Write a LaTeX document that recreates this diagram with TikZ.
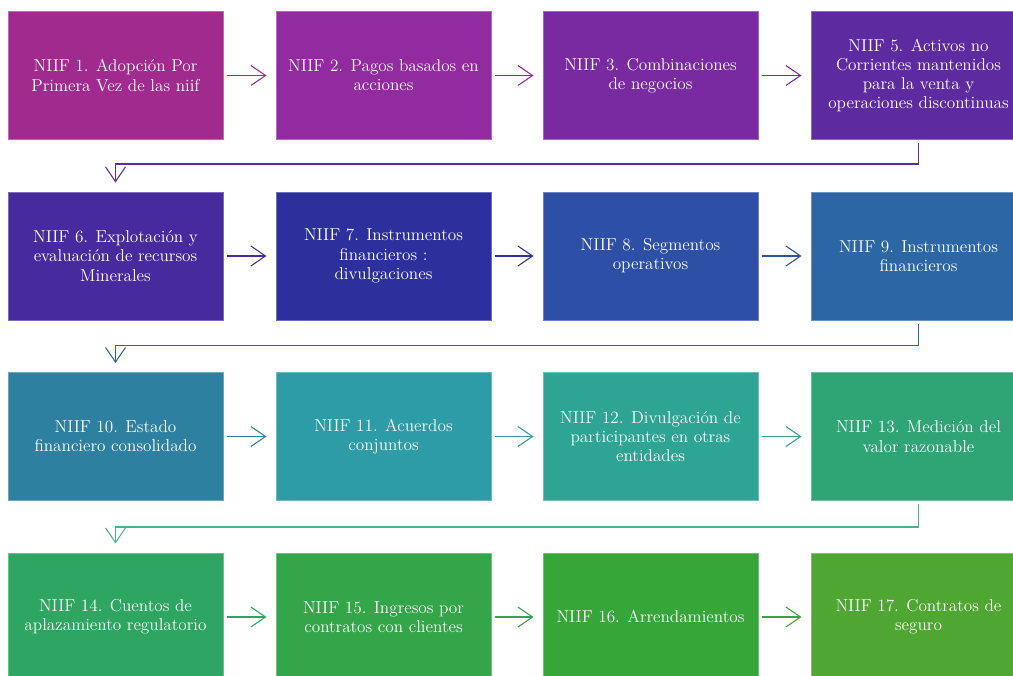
\documentclass[tikz,border=0pt]{standalone}
\usetikzlibrary{arrows.meta, positioning}
\definecolor{cA}{HTML}{A12A8F}
\definecolor{cB}{HTML}{922AA0}
\definecolor{cC}{HTML}{7A2AA0}
\definecolor{cD}{HTML}{5E2AA0}
\definecolor{cE}{HTML}{472B9E}
\definecolor{cF}{HTML}{2D309C}
\definecolor{cG}{HTML}{2D4FA6}
\definecolor{cH}{HTML}{2D66A5}
\definecolor{cI}{HTML}{2D80A0}
\definecolor{cJ}{HTML}{2D9CA6}
\definecolor{cK}{HTML}{2EA594}
\definecolor{cL}{HTML}{2FA474}
\definecolor{cM}{HTML}{2EA560}
\definecolor{cN}{HTML}{33A64A}
\definecolor{cO}{HTML}{36A638}
\definecolor{cP}{HTML}{50A632}

\begin{document}
\begin{tikzpicture}[x=0.75pt,y=0.75pt,yscale=-1,xscale=1,
  niif/.style={rectangle, minimum width=161.25pt, minimum height=96pt, inner sep=0pt, line width=0.75pt, text=white, align=center, font=\fontsize{12.9}{14.4}\selectfont},
  link/.style={line width=0.8pt, -{Straight Barb[length=11pt,width=15pt]}, shorten <=2.25pt, shorten >=6.75pt}]
%set diagram left start at 0, and has height of 675
\useasboundingbox (0,0) rectangle (1013,675);
\clip (0,0) rectangle (1013,675);

% Row 1
\node [niif, fill=cA, draw=cA!70!white] (niif1) at (115.5,75.5) {NIIF 1. Adopción Por\\Primera Vez de las niif};
\node [niif, fill=cB, draw=cB!70!white] (niif2) at (383.5,75.5) {NIIF 2. Pagos basados en\\acciones};
\node [niif, fill=cC, draw=cC!70!white] (niif3) at (650.5,75.5) {NIIF 3. Combinaciones\\de negocios};
\node [niif, fill=cD, draw=cD!70!white] (niif5) at (918.5,75.5) {NIIF 5. Activos no\\Corrientes mantenidos\\para la venta y\\operaciones discontinuas};

% Row 2
\node [niif, fill=cE, draw=cE!70!white] (niif6) at (115.5,256) {NIIF 6. Explotación y\\evaluación de recursos\\Minerales};
\node [niif, fill=cF, draw=cF!70!white] (niif7) at (383.5,256) {NIIF 7. Instrumentos\\financieros :\\divulgaciones};
\node [niif, fill=cG, draw=cG!70!white] (niif8) at (650.5,256) {NIIF 8. Segmentos\\operativos};
\node [niif, fill=cH, draw=cH!70!white] (niif9) at (918.5,256) {NIIF 9. Instrumentos\\financieros};

% Row 3
\node [niif, fill=cI, draw=cI!70!white] (niif10) at (115.5,436.5) {NIIF 10. Estado\\financiero consolidado};
\node [niif, fill=cJ, draw=cJ!70!white] (niif11) at (383.5,436.5) {NIIF 11. Acuerdos\\conjuntos};
\node [niif, fill=cK, draw=cK!70!white] (niif12) at (650.5,436.5) {NIIF 12. Divulgación de\\participantes en otras\\entidades};
\node [niif, fill=cL, draw=cL!70!white] (niif13) at (918.5,436.5) {NIIF 13. Medición del\\valor razonable};

% Row 4
\node [niif, fill=cM, draw=cM!70!white] (niif14) at (115.5,617) {NIIF 14. Cuentos de\\aplazamiento regulatorio};
\node [niif, fill=cN, draw=cN!70!white] (niif15) at (383.5,617) {NIIF 15. Ingresos por\\contratos con clientes};
\node [niif, fill=cO, draw=cO!70!white] (niif16) at (650.5,617) {NIIF 16. Arrendamientos};
\node [niif, fill=cP, draw=cP!70!white] (niif17) at (918.5,617) {NIIF 17. Contratos de\\seguro};

%Straight Lines
\draw [link, cA] (niif1) -- (niif2);
\draw [link, cB] (niif2) -- (niif3);
\draw [link, cC] (niif3) -- (niif5);
\draw [link, cD] (niif5.south) -- ++(0,24) -| (niif6.north);
\draw [link, cE] (niif6) -- (niif7);
\draw [link, cF] (niif7) -- (niif8);
\draw [link, cG] (niif8) -- (niif9);
\draw [link, cH] (niif9.south) -- ++(0,25) -| (niif10.north);
\draw [link, cI] (niif10) -- (niif11);
\draw [link, cJ] (niif11) -- (niif12);
\draw [link, cK] (niif12) -- (niif13);
\draw [link, cL!85!white] (niif13.south) -- ++(0,26) -| (niif14.north);
\draw [link, cM] (niif14) -- (niif15);
\draw [link, cN] (niif15) -- (niif16);
\draw [link, cO] (niif16) -- (niif17);

\end{tikzpicture}
\end{document}
